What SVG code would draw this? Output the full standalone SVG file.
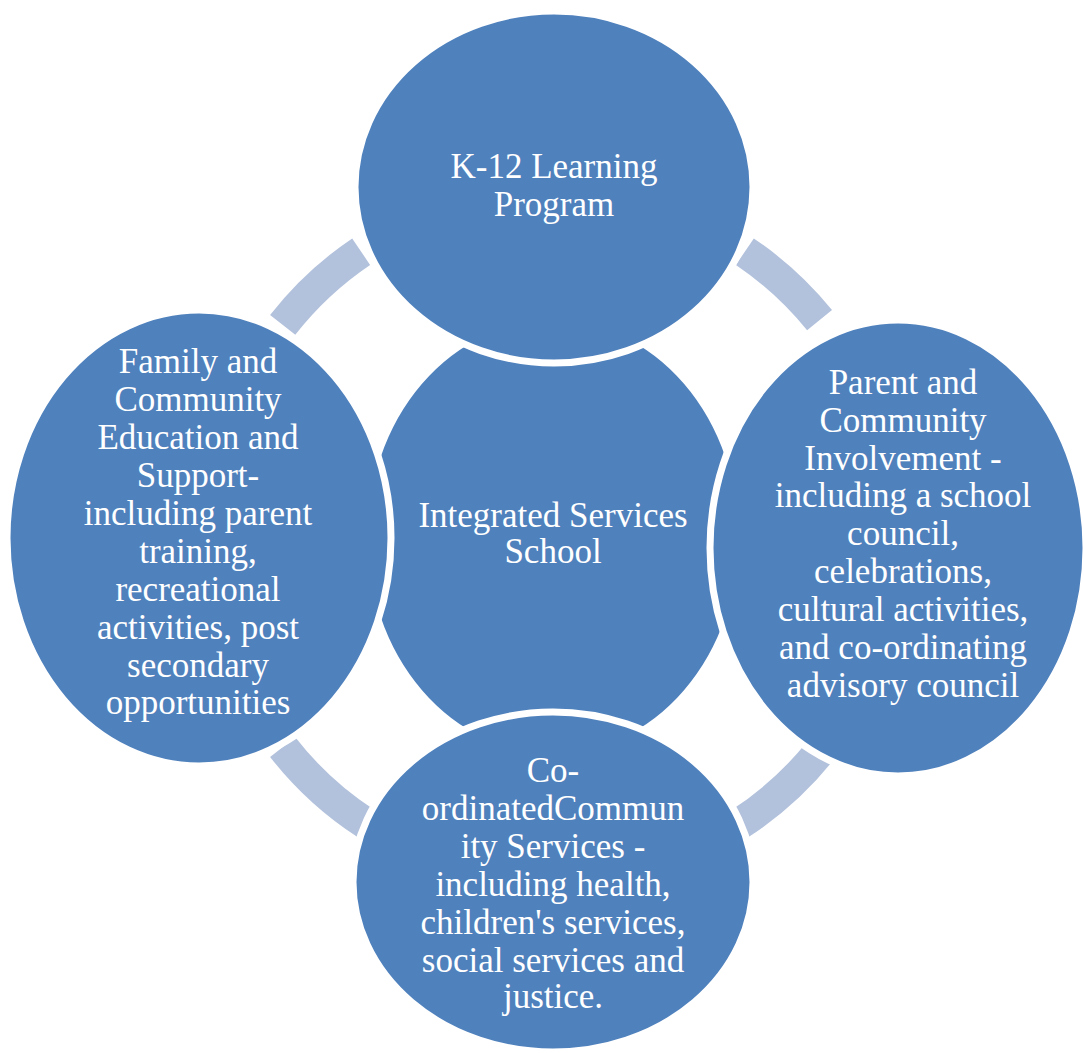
<svg xmlns="http://www.w3.org/2000/svg" width="1084" height="1053" viewBox="0 0 1084 1053">
<style>
.node{fill:#4F81BD;stroke:#FFFFFF;stroke-width:7}
.arc{fill:#B2C1DC}
.t{font-family:"Liberation Serif","Times New Roman",serif;font-size:35px;fill:#FFFFFF;text-anchor:middle}
</style>
<rect width="1084" height="1053" fill="#FFFFFF"/>
<g id="connectors">
<path class="arc" d="M270.1,315.0 A359,359 0 0 1 352.2,238.4 L370.1,264.9 A327,327 0 0 0 295.3,334.7 Z"/>
<path class="arc" d="M753.8,238.4 A359,359 0 0 1 832.0,310.1 L807.1,330.2 A327,327 0 0 0 735.9,264.9 Z"/>
<path class="arc" d="M832.0,761.9 A359,359 0 0 1 748.5,837.1 L731.1,810.3 A327,327 0 0 0 807.1,741.8 Z"/>
<path class="arc" d="M357.5,837.1 A359,359 0 0 1 270.1,757.0 L295.3,737.3 A327,327 0 0 0 374.9,810.3 Z"/>
</g>
<g id="center">
<ellipse class="node" cx="553" cy="537" rx="189" ry="220"/>
<text class="t" x="553" y="527">Integrated Services</text>
<text class="t" x="553" y="563">School</text>
</g>
<g id="top">
<ellipse class="node" cx="554" cy="187" rx="199" ry="176"/>
<text class="t" x="554" y="178">K-12 Learning</text>
<text class="t" x="554" y="216">Program</text>
</g>
<g id="left">
<ellipse class="node" cx="199" cy="538" rx="192" ry="228"/>
<text class="t" x="198" y="373">Family and</text>
<text class="t" x="198" y="411">Community</text>
<text class="t" x="198" y="449">Education and</text>
<text class="t" x="198" y="487">Support-</text>
<text class="t" x="198" y="525">including parent</text>
<text class="t" x="198" y="563">training,</text>
<text class="t" x="198" y="601">recreational</text>
<text class="t" x="198" y="639">activities, post</text>
<text class="t" x="198" y="677">secondary</text>
<text class="t" x="198" y="714">opportunities</text>
</g>
<g id="right">
<ellipse class="node" cx="898" cy="548" rx="188" ry="228"/>
<text class="t" x="903" y="394">Parent and</text>
<text class="t" x="903" y="432">Community</text>
<text class="t" x="903" y="470">Involvement -</text>
<text class="t" x="903" y="507">including a school</text>
<text class="t" x="903" y="545">council,</text>
<text class="t" x="903" y="583">celebrations,</text>
<text class="t" x="903" y="621">cultural activities,</text>
<text class="t" x="903" y="659">and co-ordinating</text>
<text class="t" x="903" y="697">advisory council</text>
</g>
<g id="bottom">
<ellipse class="node" cx="553" cy="882" rx="200" ry="170"/>
<text class="t" x="553" y="782">Co-</text>
<text class="t" x="553" y="820">ordinatedCommun</text>
<text class="t" x="553" y="858">ity Services -</text>
<text class="t" x="553" y="896">including health,</text>
<text class="t" x="553" y="934">children's services,</text>
<text class="t" x="553" y="972">social services and</text>
<text class="t" x="553" y="1008">justice.</text>
</g>
</svg>
